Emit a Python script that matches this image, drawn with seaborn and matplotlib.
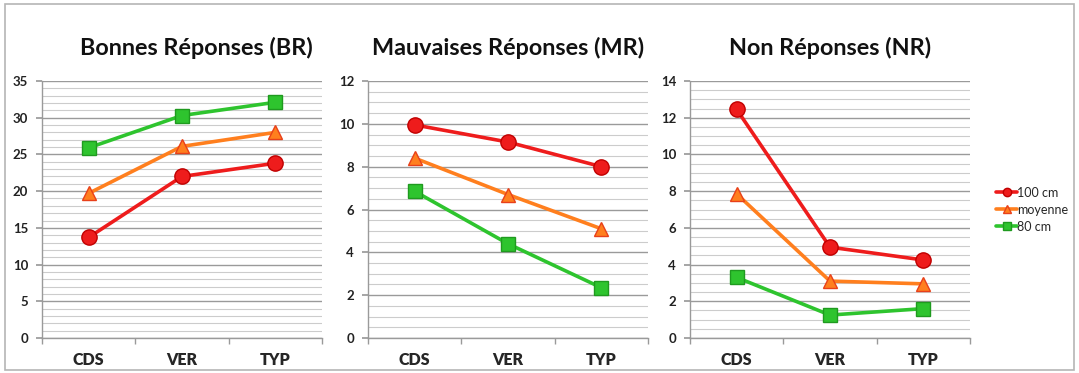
import matplotlib
matplotlib.use("Agg")
import matplotlib.pyplot as plt
from matplotlib.patches import Rectangle
from matplotlib.ticker import MultipleLocator, FixedLocator
import seaborn as sns
import pandas as pd

categories = ["CDS", "VER", "TYP"]
series = ["100 cm", "moyenne", "80 cm"]
titles = ["Bonnes Réponses (BR)", "Mauvaises Réponses (MR)", "Non Réponses (NR)"]

br_100 = [13.7, 22.0, 23.8]
br_moy = [19.7, 26.1, 28.0]
br_80 = [25.9, 30.3, 32.1]

mr_100 = [9.95, 9.15, 8.0]
mr_moy = [8.4, 6.7, 5.1]
mr_80 = [6.85, 4.4, 2.35]

nr_100 = [12.45, 4.95, 4.25]
nr_moy = [7.85, 3.1, 2.95]
nr_80 = [3.3, 1.25, 1.6]

y_max = [35, 12, 14]
y_major = [5, 2, 2]
y_minor = [1, 0.5, 0.5]

panels = {
    titles[0]: [br_100, br_moy, br_80],
    titles[1]: [mr_100, mr_moy, mr_80],
    titles[2]: [nr_100, nr_moy, nr_80],
}

rows = []
for title, vals in panels.items():
    for name, v in zip(series, vals):
        for c, y in zip(categories, v):
            rows.append({"panel": title, "serie": name, "cat": c, "val": y})
df = pd.DataFrame(rows)

sns.set_theme(style="white")
plt.rcParams["font.family"] = ["Lato", "DejaVu Sans"]

palette = {"100 cm": "#ee1c1c", "moyenne": "#ff7f1e", "80 cm": "#2ec42e"}
edges = {"100 cm": "#c00000", "moyenne": "#e8401a", "80 cm": "#1f9a1f"}
markers = {"100 cm": "o", "moyenne": "^", "80 cm": "s"}
msize = {"100 cm": 11, "moyenne": 10, "80 cm": 10}

fig = plt.figure(figsize=(10.79, 3.73), dpi=100)
fig.patches.append(Rectangle((0.005, 0.008), 0.99, 0.98, transform=fig.transFigure,
                             fill=False, edgecolor="#b5b5b5", linewidth=1.2))

lefts = [42, 368, 690]
title_x = [0.55, 0.5, 0.5]
width = 280
bottom_px, top_px = 338, 81
W, H = 1079, 373

for i, title in enumerate(titles):
    ax = fig.add_axes([lefts[i] / W, 1 - bottom_px / H, width / W, (bottom_px - top_px) / H])
    sub = df[df["panel"] == title]
    sns.lineplot(data=sub, x="cat", y="val", hue="serie", style="serie",
                 palette=palette, markers=markers, dashes=False, linewidth=2.6,
                 ax=ax, legend=False, sort=False)
    for line, name in zip(ax.get_lines(), series):
        line.set_markersize(msize[name])
        line.set_markeredgecolor(edges[name])
        line.set_markeredgewidth(1.0)
    ax.set_xlim(-0.5, 2.5)
    ax.set_ylim(0, y_max[i])
    ax.yaxis.set_major_locator(MultipleLocator(y_major[i]))
    ax.yaxis.set_minor_locator(MultipleLocator(y_minor[i]))
    ax.grid(which="major", axis="y", color="#9a9a9a", linewidth=1.0)
    ax.grid(which="minor", axis="y", color="#cccccc", linewidth=0.8)
    ax.grid(False, axis="x")
    ax.set_axisbelow(True)
    for s in ["top", "right"]:
        ax.spines[s].set_visible(False)
    for s in ["left", "bottom"]:
        ax.spines[s].set_color("#9a9a9a")
        ax.spines[s].set_linewidth(1.0)
    ax.xaxis.set_minor_locator(FixedLocator([-0.5, 0.5, 1.5, 2.5]))
    ax.tick_params(axis="x", which="major", length=0, pad=10)
    ax.tick_params(axis="x", which="minor", length=4, color="#9a9a9a", direction="out", bottom=True)
    ax.tick_params(axis="y", which="major", length=4, color="#9a9a9a", direction="out", left=True, pad=6)
    ax.tick_params(axis="y", which="minor", length=0)
    for lab in ax.get_xticklabels():
        lab.set_fontweight("heavy")
        lab.set_fontsize(11.5)
    for lab in ax.get_yticklabels():
        lab.set_fontweight("bold")
        lab.set_fontsize(9.5)
        lab.set_color("#222222")
    ax.set_xlabel("")
    ax.set_ylabel("")
    ax.set_title(title, fontsize=16.8, fontweight="bold", pad=19, color="#111111", x=title_x[i])

    if i == 2:
        handles = []
        for name in series:
            h, = ax.plot([], [], color=palette[name], marker=markers[name],
                         markersize=6, markeredgecolor=edges[name], linewidth=2.6)
            handles.append(h)
        leg = ax.legend(handles, series, loc="center left", bbox_to_anchor=(1.075, 0.5),
                        frameon=False, fontsize=9, handlelength=1.7, handletextpad=0.0,
                        labelspacing=0.4, borderaxespad=0)

fig.savefig("out.png", dpi=100)
